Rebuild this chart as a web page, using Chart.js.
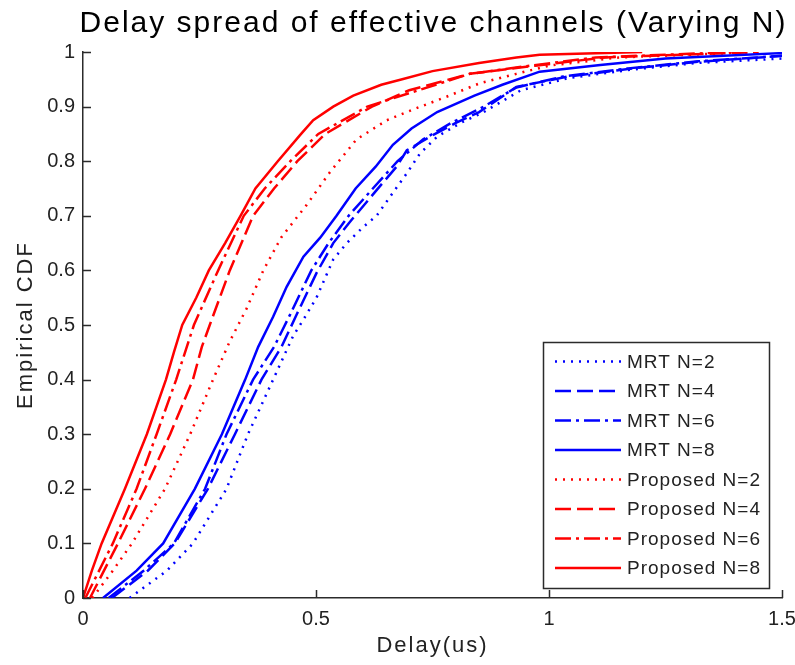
<!DOCTYPE html>
<html>
<head>
<meta charset="utf-8">
<script src="https://cdn.jsdelivr.net/npm/chart.js@4.4.1/dist/chart.umd.min.js"></script>
<style>
  html, body { margin: 0; padding: 0; background: #fff; }
  #wrap { width: 795px; height: 665px; position: relative; }
</style>
</head>
<body>
<div id="wrap"><canvas id="cdfChart" width="795" height="665"></canvas></div>
<script>
// empirical CDF curves: delay (us) vs CDF level
const mrtN2Delay = [0.10, 0.18, 0.236, 0.308, 0.354, 0.408, 0.451, 0.473, 0.501, 0.537, 0.566, 0.602, 0.63, 0.659, 0.695, 0.723, 0.76, 0.81, 0.86, 0.94, 1.04, 1.18, 1.32, 1.5];
const mrtN2Cdf   = [0, 0.05, 0.1, 0.2, 0.3, 0.4, 0.48, 0.51, 0.55, 0.62, 0.65, 0.68, 0.7, 0.735, 0.778, 0.814, 0.845, 0.87, 0.89, 0.93, 0.952, 0.968, 0.98, 0.988];

const mrtN4Delay = [0.062, 0.139, 0.197, 0.268, 0.326, 0.383, 0.426, 0.459, 0.501, 0.537, 0.57, 0.63, 0.673, 0.695, 0.745, 0.80, 0.85, 0.93, 1.04, 1.18, 1.32, 1.5];
const mrtN4Cdf   = [0, 0.05, 0.1, 0.2, 0.3, 0.4, 0.46, 0.52, 0.595, 0.65, 0.686, 0.747, 0.79, 0.82, 0.845, 0.87, 0.89, 0.936, 0.955, 0.97, 0.982, 0.993];

const mrtN6Delay = [0.055, 0.13, 0.195, 0.262, 0.308, 0.365, 0.41, 0.445, 0.49, 0.527, 0.57, 0.622, 0.675, 0.73, 0.79, 0.86, 0.93, 1.03, 1.17, 1.32, 1.5];
const mrtN6Cdf   = [0, 0.05, 0.1, 0.2, 0.3, 0.4, 0.46, 0.52, 0.6, 0.65, 0.7, 0.75, 0.8, 0.84, 0.87, 0.9, 0.935, 0.955, 0.97, 0.983, 0.993];

const mrtN8Delay = [0.043, 0.115, 0.172, 0.24, 0.298, 0.348, 0.376, 0.408, 0.437, 0.473, 0.509, 0.544, 0.585, 0.628, 0.665, 0.705, 0.76, 0.84, 0.9, 0.98, 1.11, 1.25, 1.5];
const mrtN8Cdf   = [0, 0.05, 0.1, 0.2, 0.3, 0.4, 0.46, 0.515, 0.57, 0.625, 0.66, 0.7, 0.75, 0.79, 0.83, 0.86, 0.89, 0.92, 0.94, 0.964, 0.976, 0.988, 0.998];

const propN2Delay = [0.02, 0.064, 0.105, 0.176, 0.23, 0.279, 0.315, 0.351, 0.387, 0.425, 0.48, 0.53, 0.587, 0.652, 0.709, 0.78, 0.852, 0.93, 1.0, 1.15, 1.45];
const propN2Cdf   = [0, 0.05, 0.1, 0.2, 0.3, 0.4, 0.47, 0.53, 0.6, 0.66, 0.72, 0.78, 0.84, 0.875, 0.895, 0.918, 0.943, 0.96, 0.975, 0.99, 1];

const propN4Delay = [0.015, 0.075, 0.133, 0.187, 0.236, 0.255, 0.272, 0.315, 0.365, 0.41, 0.46, 0.52, 0.62, 0.70, 0.83, 0.97, 1.12, 1.45];
const propN4Cdf   = [0, 0.1, 0.2, 0.3, 0.4, 0.46, 0.5, 0.6, 0.7, 0.75, 0.8, 0.85, 0.9, 0.93, 0.96, 0.975, 0.99, 1];

const propN6Delay = [0.005, 0.064, 0.115, 0.158, 0.2, 0.238, 0.29, 0.345, 0.39, 0.445, 0.505, 0.61, 0.72, 0.83, 0.96, 1.1, 1.4];
const propN6Cdf   = [0, 0.1, 0.2, 0.3, 0.4, 0.5, 0.6, 0.7, 0.75, 0.8, 0.85, 0.9, 0.93, 0.96, 0.975, 0.99, 1];

const propN8Delay = [0, 0.019, 0.04, 0.09, 0.137, 0.178, 0.195, 0.213, 0.243, 0.27, 0.305, 0.338, 0.37, 0.418, 0.468, 0.494, 0.537, 0.58, 0.64, 0.685, 0.75, 0.85, 0.93, 0.98, 1.2];
const propN8Cdf   = [0, 0.05, 0.1, 0.2, 0.3, 0.4, 0.45, 0.5, 0.55, 0.6, 0.65, 0.7, 0.75, 0.8, 0.85, 0.875, 0.9, 0.92, 0.94, 0.95, 0.965, 0.98, 0.99, 0.995, 1];

const seriesLabels = ['MRT N=2', 'MRT N=4', 'MRT N=6', 'MRT N=8',
                      'Proposed N=2', 'Proposed N=4', 'Proposed N=6', 'Proposed N=8'];
const xTickValues = [0, 0.5, 1, 1.5];
const yTickValues = [0, 0.1, 0.2, 0.3, 0.4, 0.5, 0.6, 0.7, 0.8, 0.9, 1];

const titleText = 'Delay spread of effective channels (Varying N)';
const xLabelText = 'Delay(us)';
const yLabelText = 'Empirical CDF';

const FONT = '"Liberation Sans", Arial, Helvetica, sans-serif';
const AXIS = '#2b2b2b';
const BLUE = '#0000ff';
const RED = '#ff0000';
const DOT = [2, 6];
const DASH = [16, 6];
const DASHDOT = [16, 5, 3, 5];

const toPoints = (xs, ys) => xs.map((x, i) => ({ x: x, y: ys[i] }));

const seriesDefs = [
  { d: mrtN2Delay, c: mrtN2Cdf, color: BLUE, dash: DOT },
  { d: mrtN4Delay, c: mrtN4Cdf, color: BLUE, dash: DASH },
  { d: mrtN6Delay, c: mrtN6Cdf, color: BLUE, dash: DASHDOT },
  { d: mrtN8Delay, c: mrtN8Cdf, color: BLUE, dash: [] },
  { d: propN2Delay, c: propN2Cdf, color: RED, dash: DOT },
  { d: propN4Delay, c: propN4Cdf, color: RED, dash: DASH },
  { d: propN6Delay, c: propN6Cdf, color: RED, dash: DASHDOT },
  { d: propN8Delay, c: propN8Cdf, color: RED, dash: [] },
];

const datasets = seriesDefs.map((s, i) => ({
  label: seriesLabels[i],
  data: toPoints(s.d, s.c),
  borderColor: s.color,
  backgroundColor: s.color,
  borderDash: s.dash,
  borderWidth: 2.5,
  pointRadius: 0,
  tension: 0,
  fill: false,
}));

// matlab-like decorations: inward ticks, title, axis labels, legend box
const matlabDecor = {
  id: 'matlabDecor',
  afterDraw(chart) {
    const ctx = chart.ctx;
    const area = chart.chartArea;
    const xs = chart.scales.x;
    const ys = chart.scales.y;
    const midX = (area.left + area.right) / 2;
    ctx.save();

    // inward ticks
    ctx.strokeStyle = AXIS;
    ctx.lineWidth = 1.5;
    ctx.setLineDash([]);
    ctx.beginPath();
    xTickValues.forEach(v => {
      const px = Math.round(xs.getPixelForValue(v)) + 0.5;
      ctx.moveTo(px, area.bottom);
      ctx.lineTo(px, area.bottom - 8);
    });
    yTickValues.forEach(v => {
      const py = Math.round(ys.getPixelForValue(v)) + 0.5;
      ctx.moveTo(area.left, py);
      ctx.lineTo(area.left + 8, py);
    });
    ctx.stroke();

    // title
    ctx.fillStyle = '#000';
    ctx.font = '30px ' + FONT;
    ctx.letterSpacing = '2px';
    ctx.textAlign = 'center';
    ctx.textBaseline = 'alphabetic';
    ctx.fillText(titleText, midX + 1, 32);

    // axis labels
    ctx.fillStyle = '#222';
    ctx.font = '22px ' + FONT;
    ctx.letterSpacing = '2px';
    ctx.fillText(xLabelText, midX, 652);
    ctx.save();
    ctx.translate(32, (area.top + area.bottom) / 2);
    ctx.rotate(-Math.PI / 2);
    ctx.fillText(yLabelText, 0, 0);
    ctx.restore();

    // legend
    const box = { l: 543.5, t: 342.5, r: 769.5, b: 588.5 };
    ctx.fillStyle = '#fff';
    ctx.fillRect(box.l, box.t, box.r - box.l, box.b - box.t);
    ctx.strokeStyle = AXIS;
    ctx.lineWidth = 1.5;
    ctx.strokeRect(box.l, box.t, box.r - box.l, box.b - box.t);
    ctx.font = '19px ' + FONT;
    ctx.letterSpacing = '1px';
    ctx.textAlign = 'left';
    ctx.textBaseline = 'middle';
    datasets.forEach((ds, i) => {
      const y = 361.5 + i * 29.5;
      ctx.strokeStyle = ds.borderColor;
      ctx.lineWidth = 2.5;
      ctx.setLineDash(ds.borderDash);
      ctx.beginPath();
      ctx.moveTo(555, y);
      ctx.lineTo(621, y);
      ctx.stroke();
      ctx.setLineDash([]);
      ctx.fillStyle = '#222';
      ctx.fillText(ds.label, 627, y + 1);
    });
    ctx.restore();
  }
};

const tickFmt = v => String(Math.round(v * 10) / 10);

new Chart(document.getElementById('cdfChart').getContext('2d'), {
  type: 'line',
  data: { datasets: datasets },
  options: {
    responsive: false,
    animation: false,
    layout: { padding: { top: 52, right: 13, left: 0, bottom: 0 } },
    plugins: {
      legend: { display: false },
      tooltip: { enabled: false },
      title: { display: false },
    },
    scales: {
      x: {
        type: 'linear',
        min: 0,
        max: 1.5,
        afterBuildTicks: s => { s.ticks = xTickValues.map(v => ({ value: v })); },
        afterFit: s => { s.height = 67; s.paddingLeft = 0; s.paddingRight = 0; },
        grid: { display: false, drawTicks: false },
        border: { display: true, color: AXIS, width: 1.5 },
        ticks: { color: '#222', padding: 9, font: { family: FONT, size: 20 }, callback: tickFmt, maxRotation: 0 },
      },
      y: {
        type: 'linear',
        min: 0,
        max: 1,
        afterBuildTicks: s => { s.ticks = yTickValues.map(v => ({ value: v })); },
        afterFit: s => { s.width = 83; s.paddingTop = 0; s.paddingBottom = 0; },
        grid: { display: false, drawTicks: false },
        border: { display: true, color: AXIS, width: 1.5 },
        ticks: { color: '#222', padding: 8, font: { family: FONT, size: 20 }, callback: tickFmt },
      }
    }
  },
  plugins: [matlabDecor]
});
</script>
</body>
</html>
